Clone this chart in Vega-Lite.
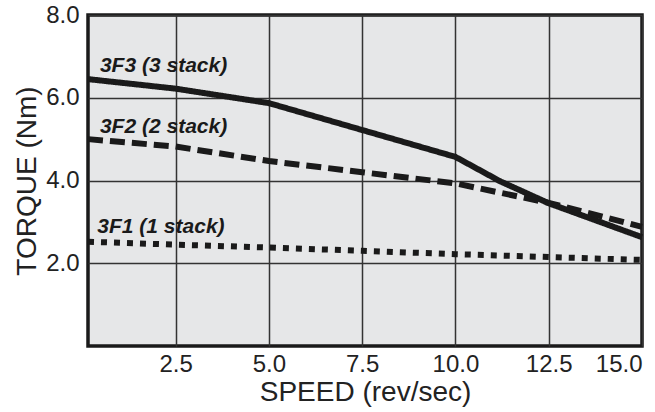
{
  "$schema": "https://vega.github.io/schema/vega-lite/v6.json",
  "autosize": {"type": "none"},
  "padding": {"left": 88, "top": 15, "right": 13, "bottom": 66},
  "width": 554,
  "height": 331,
  "background": "white",
  "config": {
    "view": {"fill": "#e6e7e8", "stroke": "#1a1a1a", "strokeWidth": 3.5},
    "font": "Liberation Sans"
  },
  "datasets": {
    "curves": [
      {"speed": 0.15, "torque": 6.45, "motor": "3F3"},
      {"speed": 2.5, "torque": 6.22, "motor": "3F3"},
      {"speed": 5.0, "torque": 5.87, "motor": "3F3"},
      {"speed": 7.5, "torque": 5.22, "motor": "3F3"},
      {"speed": 10.0, "torque": 4.57, "motor": "3F3"},
      {"speed": 11.2, "torque": 3.98, "motor": "3F3"},
      {"speed": 12.5, "torque": 3.45, "motor": "3F3"},
      {"speed": 15.0, "torque": 2.63, "motor": "3F3"},
      {"speed": 0.15, "torque": 5.0, "motor": "3F2"},
      {"speed": 2.5, "torque": 4.82, "motor": "3F2"},
      {"speed": 5.0, "torque": 4.47, "motor": "3F2"},
      {"speed": 7.5, "torque": 4.2, "motor": "3F2"},
      {"speed": 10.0, "torque": 3.93, "motor": "3F2"},
      {"speed": 12.5, "torque": 3.46, "motor": "3F2"},
      {"speed": 15.0, "torque": 2.88, "motor": "3F2"},
      {"speed": 0.15, "torque": 2.52, "motor": "3F1"},
      {"speed": 2.5, "torque": 2.45, "motor": "3F1"},
      {"speed": 5.0, "torque": 2.38, "motor": "3F1"},
      {"speed": 7.5, "torque": 2.3, "motor": "3F1"},
      {"speed": 10.0, "torque": 2.22, "motor": "3F1"},
      {"speed": 12.5, "torque": 2.15, "motor": "3F1"},
      {"speed": 15.0, "torque": 2.08, "motor": "3F1"}
    ],
    "labels": [
      {"speed": 0.47, "torque": 6.62, "text": "3F3 (3 stack)"},
      {"speed": 0.47, "torque": 5.15, "text": "3F2 (2 stack)"},
      {"speed": 0.4, "torque": 2.73, "text": "3F1 (1 stack)"}
    ]
  },
  "layer": [
    {
      "data": {"name": "curves"},
      "mark": {"type": "line", "strokeWidth": 6, "strokeCap": "butt", "color": "#1a1a1a"},
      "encoding": {
        "x": {
          "field": "speed", "type": "quantitative",
          "scale": {"domain": [0.15, 15], "nice": false, "zero": false},
          "axis": {
            "title": "SPEED (rev/sec)", "values": [2.5, 5, 7.5, 10, 12.5, 15],
            "format": ".1f", "grid": true, "gridColor": "#333333", "gridWidth": 1.5,
            "domain": false, "ticks": false, "labelPadding": 6, "labelFontSize": 24,
            "labelColor": "#222222", "titleFontSize": 28, "titleFontWeight": "normal",
            "titleColor": "#222222", "titlePadding": 2
          }
        },
        "y": {
          "field": "torque", "type": "quantitative",
          "scale": {"domain": [0, 8], "nice": false},
          "axis": {
            "title": "TORQUE (Nm)", "values": [2, 4, 6, 8],
            "format": ".1f", "grid": true, "gridColor": "#333333", "gridWidth": 1.5,
            "domain": false, "ticks": false, "labelPadding": 9, "labelFontSize": 24,
            "labelColor": "#222222", "titleFontSize": 28, "titleFontWeight": "normal",
            "titleColor": "#222222", "titlePadding": 4
          }
        },
        "detail": {"field": "motor"},
        "strokeDash": {
          "field": "motor", "type": "nominal",
          "scale": {"domain": ["3F3", "3F2", "3F1"], "range": [[1, 0], [15, 7], [6, 7]]},
          "legend": null
        }
      }
    },
    {
      "data": {"name": "labels"},
      "mark": {"type": "text", "align": "left", "baseline": "alphabetic", "fontSize": 21,
               "fontStyle": "italic", "fontWeight": "bold", "font": "Liberation Sans", "color": "#1a1a1a"},
      "encoding": {
        "x": {"field": "speed", "type": "quantitative"},
        "y": {"field": "torque", "type": "quantitative"},
        "text": {"field": "text"}
      }
    }
  ]
}
